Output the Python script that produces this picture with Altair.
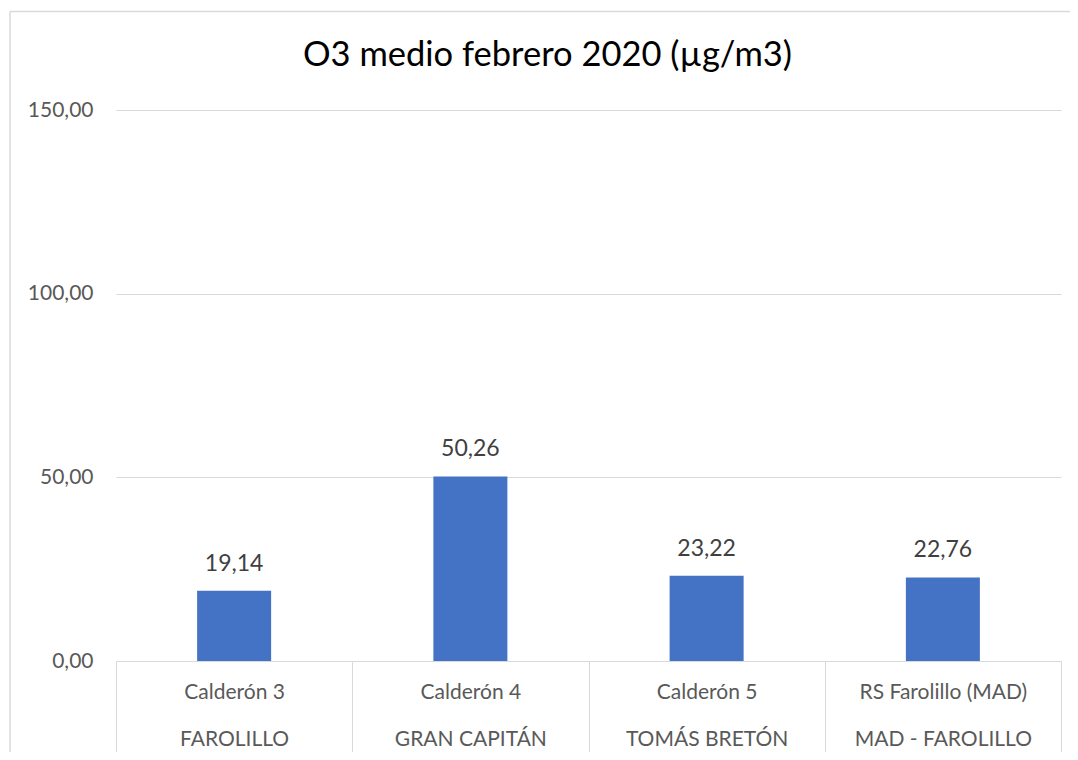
import altair as alt
import pandas as pd

estaciones = ["Calderón 3", "Calderón 4", "Calderón 5", "RS Farolillo (MAD)"]
zonas = ["FAROLILLO", "GRAN CAPITÁN", "TOMÁS BRETÓN", "MAD - FAROLILLO"]
valores = [19.14, 50.26, 23.22, 22.76]
y_ticks = [0, 50, 100, 150]
titulo = "O3 medio febrero 2020 (µg/m3)"

df = pd.DataFrame({
    "cat": [f"{e}|{z}" for e, z in zip(estaciones, zonas)],
    "valor": valores,
})
df["etiqueta"] = [f"{v:.2f}".replace(".", ",") for v in valores]

W, H = 945, 551
FONT = "Lato"
GRID = "#d9d9d9"

x_enc = alt.X(
    "cat:N", sort=None, title=None,
    scale=alt.Scale(paddingInner=0, paddingOuter=0),
    axis=alt.Axis(
        domain=True, domainColor=GRID,
        ticks=True, tickBand="extent", tickSize=99, tickColor=GRID,
        labelExpr="split(datum.label, '|')",
        labelPadding=-79, labelLineHeight=47, labelAngle=0,
        labelFont=FONT, labelFontSize=21, labelColor="#595959",
        labelLimit=0, labelOverlap=False,
    ),
)
y_enc = alt.Y(
    "valor:Q", title=None,
    scale=alt.Scale(domain=[0, 150], nice=False),
    axis=alt.Axis(
        values=y_ticks, grid=True, gridColor=GRID, domain=False, ticks=False,
        labelExpr="replace(format(datum.value, '.2f'), '.', ',')",
        labelPadding=23, labelFont=FONT, labelFontSize=21, labelColor="#595959",
    ),
)

base = alt.Chart(df)
bars = base.mark_bar(color="#4472C4", size=74).encode(x=x_enc, y=y_enc)
texts = base.mark_text(dy=-20, baseline="alphabetic", font=FONT, fontSize=23,
                       color="#404040").encode(x=x_enc, y=y_enc, text="etiqueta:N")

frame_df = pd.DataFrame({"k": [0]})
top_rule = alt.Chart(frame_df).mark_rule(color=GRID, strokeWidth=1.5).encode(
    x=alt.value(-106), x2=alt.value(W + 20), y=alt.value(-98.5))
left_rule = alt.Chart(frame_df).mark_rule(color=GRID, strokeWidth=1.5).encode(
    x=alt.value(-106), y=alt.value(-98.5), y2=alt.value(H + 100))

chart = alt.layer(top_rule, left_rule, bars, texts).properties(
    width=W, height=H,
    title=alt.TitleParams(titulo, font=FONT, fontSize=34.5, fontWeight="normal",
                          color="#000000", anchor="middle", dx=-41, offset=-90,
                          baseline="alphabetic"),
    autosize=alt.AutoSizeParams(type="none"),
    padding={"left": 108, "top": 102, "right": 9, "bottom": 91},
).configure(background="white").configure_view(stroke=None)

chart.save("out.html", embed_options={"renderer": "svg", "actions": False})
